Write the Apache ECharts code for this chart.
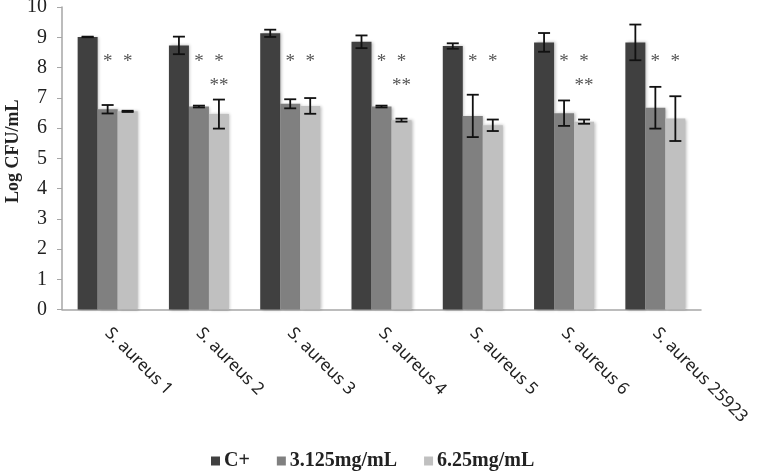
<!DOCTYPE html>
<html>
<head>
<meta charset="utf-8">
<script src="https://cdn.jsdelivr.net/npm/echarts@6/dist/echarts.min.js"></script>
<style>html,body{margin:0;padding:0;background:#fff;}#c{width:761px;height:471px;}</style>
</head>
<body>
<div id="c"></div>
<script>
const categories = ['S. aureus 1','S. aureus 2','S. aureus 3','S. aureus 4','S. aureus 5','S. aureus 6','S. aureus 25923'];
const seriesNames = ['C+','3.125mg/mL','6.25mg/mL'];
const valuesCplus = [9.01, 8.73, 9.13, 8.85, 8.71, 8.83, 8.83];
const values3125 = [6.62, 6.71, 6.80, 6.71, 6.40, 6.49, 6.67];
const values625  = [6.55, 6.46, 6.73, 6.26, 6.09, 6.21, 6.31];
const errCplus = [0.01, 0.29, 0.12, 0.21, 0.09, 0.31, 0.59];
const err3125  = [0.14, 0.03, 0.15, 0.03, 0.70, 0.42, 0.69];
const err625   = [0.02, 0.48, 0.26, 0.05, 0.19, 0.07, 0.74];
const sig3125  = ['*','*','*','*','*','*','*'];
const sig625   = ['*','*','*','*','*','*','*'];
const sig625b  = ['','**','','**','','**',''];
const sigLevel1 = 8.25;
const sigLevel2 = 7.45;
const yTicks = [0,1,2,3,4,5,6,7,8,9,10];

const colors = ['#404040','#808080','#c0c0c0'];
const BAR_W = 20;
const allValues = [valuesCplus, values3125, values625];
const allErr = [errCplus, err3125, err625];

const chart = echarts.init(document.getElementById('c'));

function errData(k){ return categories.map((c,i)=>[i, allValues[k][i], allErr[k][i], k]); }

function errRender(params, api){
  const i = api.value(0), v = api.value(1), e = api.value(2), k = api.value(3);
  const off = (k - 1) * BAR_W;
  const top = api.coord([i, v + e]);
  const bot = api.coord([i, v - e]);
  const x = top[0] + off;
  const cap = 6;
  const style = {stroke:'#111', lineWidth:1.8};
  return {type:'group', children:[
    {type:'line', shape:{x1:x, y1:top[1], x2:x, y2:bot[1]}, style},
    {type:'line', shape:{x1:x-cap, y1:top[1], x2:x+cap, y2:top[1]}, style},
    {type:'line', shape:{x1:x-cap, y1:bot[1], x2:x+cap, y2:bot[1]}, style}
  ]};
}

const sigData = [];
categories.forEach((c,i)=>{
  if (sig3125[i]) sigData.push([i, sigLevel1, 1, sig3125[i]]);
  if (sig625[i]) sigData.push([i, sigLevel1, 2, sig625[i]]);
  if (sig625b[i]) sigData.push([i, sigLevel2, 2, sig625b[i]]);
});

function sigRender(params, api){
  const i = api.value(0), y = api.value(1), k = api.value(2);
  const txt = sigData[params.dataIndex][3];
  const p = api.coord([i, y]);
  return {type:'text', x: p[0] + (k - 1) * BAR_W, y: p[1] + 2,
    style:{text: txt, fill:'#555', font:'19px "Liberation Serif"', align:'center', verticalAlign:'middle'}};
}

const series = seriesNames.map((n,k)=>({
  name:n, type:'bar', data: allValues[k], barWidth: BAR_W, barGap:'0%',
  itemStyle:{color:colors[k], shadowColor:'rgba(0,0,0,0.25)', shadowBlur:3, shadowOffsetX:1.5},
  emphasis:{disabled:true}, z:2
}));
for (let k=0;k<3;k++){
  series.push({type:'custom', renderItem: errRender, data: errData(k), z:5, silent:true});
}
series.push({type:'custom', renderItem: sigRender, data: sigData.map(d=>[d[0],d[1],d[2]]), z:5, silent:true});

chart.setOption({
  animation:false,
  color: colors,
  grid:{left:62, right:60, top:7, bottom:161.5, containLabel:false, outerBoundsMode:'none'},
  legend:{
    data: seriesNames, left:206, top:446, icon:'rect', itemWidth:9, itemHeight:9, itemGap:27,
    textStyle:{fontFamily:'Liberation Serif', fontWeight:'bold', fontSize:20, color:'#222', padding:[0,0,0,-1]}
  },
  xAxis:{
    type:'category', data: categories,
    axisLine:{lineStyle:{color:'#a6a6a6', width:1.5}},
    axisTick:{show:false},
    axisLabel:{rotate:-45, interval:0, margin:21, fontFamily:'Noto Sans', fontSize:17, color:'#222'}
  },
  yAxis:{
    type:'value', min:yTicks[0], max:yTicks[yTicks.length-1], interval:1,
    name:'Log CFU/mL', nameLocation:'middle', nameGap:40, nameRotate:90, nameMoveOverlap:false,
    nameTextStyle:{fontFamily:'Liberation Serif', fontWeight:'bold', fontSize:18, color:'#222', padding:[0,0,0,14]},
    axisLine:{show:true, lineStyle:{color:'#a6a6a6', width:1.5}},
    axisTick:{show:true, length:5, lineStyle:{color:'#a6a6a6'}},
    splitLine:{show:false},
    axisLabel:{margin:15, fontFamily:'Liberation Serif', fontSize:20, color:'#222'}
  },
  series
});
</script>
</body>
</html>
